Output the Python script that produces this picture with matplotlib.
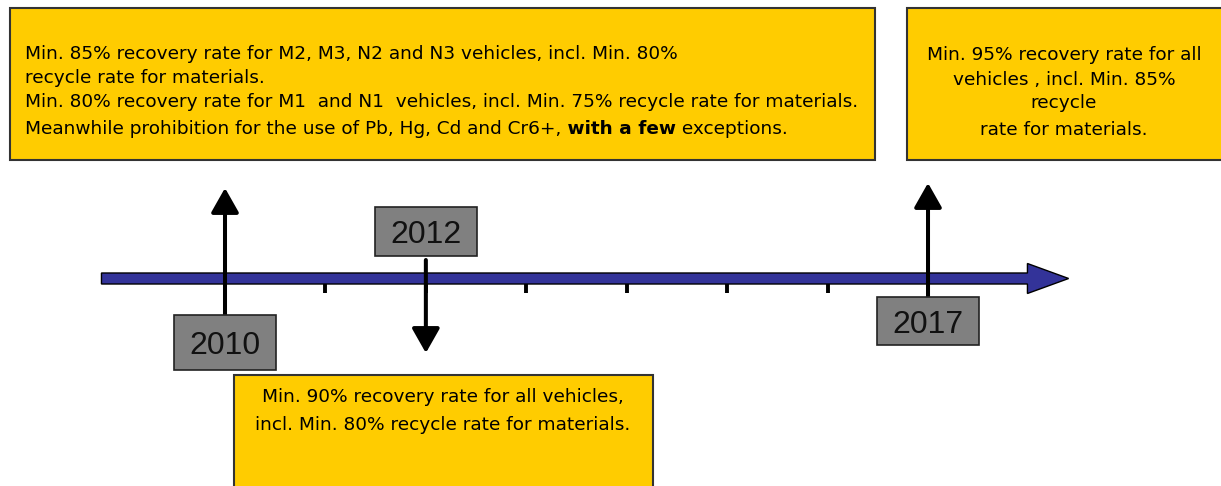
import matplotlib
matplotlib.use("Agg")
import matplotlib.pyplot as plt
from matplotlib.patches import Rectangle, FancyArrow

# Timeline data
event_years = [2010, 2012, 2017]
event_labels = ["2010", "2012", "2017"]
tick_years = [2010, 2011, 2012, 2013, 2014, 2015, 2016, 2017]
axis_start, axis_end = 2008.77, 2018.40

# Text of the yellow boxes
text_2010 = [
    "Min. 85% recovery rate for M2, M3, N2 and N3 vehicles, incl. Min. 80%",
    "recycle rate for materials.",
    "Min. 80% recovery rate for M1  and N1  vehicles, incl. Min. 75% recycle rate for materials.",
]
text_2010_last = ["Meanwhile prohibition for the use of Pb, Hg, Cd and Cr6+,", " with a few", " exceptions."]
text_2012 = ["Min. 90% recovery rate for all vehicles,", "incl. Min. 80% recycle rate for materials."]
text_2017 = ["Min. 95% recovery rate for all", "vehicles , incl. Min. 85%", "recycle", "rate for materials."]

# Styling / layout
W, H = 1221, 486
px_per_year = 100.43
yellow = "#FFCC00"
blue = "#333399"
grey = "#808080"
fs = 13.3
box_font = "DejaVu Sans"
year_font = "Liberation Sans"

fig = plt.figure(figsize=(W / 100, H / 100), dpi=100)
ax = fig.add_axes([0, 0, 1, 1])
ax.set_xlim(0, W)
ax.set_ylim(H, 0)
ax.axis("off")

tl = fig.add_axes([0, 0, 1, 1])
tl.set_xlim(2010 - 225 / px_per_year, 2010 + (W - 225) / px_per_year)
tl.set_ylim(H, 0)
tl.axis("off")
tl.patch.set_alpha(0)

# yellow boxes
for x0, y0, x1, y1 in [(10, 8, 875, 160), (907, 8, 1240, 160), (234, 375, 653, 500)]:
    ax.add_patch(Rectangle((x0, y0), x1 - x0, y1 - y0, fc=yellow, ec="#333333", lw=1.5))

for line, yb in zip(text_2010, [59, 83, 107]):
    ax.text(25, yb, line, fontsize=fs, family=box_font, va="baseline", ha="left")
prev = ax.text(25, 134, text_2010_last[0], fontsize=fs, family=box_font, va="baseline", ha="left")
prev = ax.annotate(text_2010_last[1], xy=(1, 0), xycoords=prev, fontsize=fs, family=box_font,
                   fontweight="bold", va="bottom", ha="left")
ax.annotate(text_2010_last[2], xy=(1, 0), xycoords=prev, fontsize=fs, family=box_font,
            va="bottom", ha="left")

for line, yb in zip(text_2017, [60, 85, 108, 135]):
    ax.text(1064, yb, line, fontsize=fs, family=box_font, va="baseline", ha="center")

for line, yb in zip(text_2012, [402, 430]):
    ax.text(443, yb, line, fontsize=fs, family=box_font, va="baseline", ha="center")

# timeline bar with arrow head
tl.add_patch(FancyArrow(axis_start, 278.5, axis_end - axis_start, 0, width=11, head_width=30,
                        head_length=0.41, length_includes_head=True, fc=blue, ec="black",
                        lw=1, zorder=2))
tl.vlines(tick_years, 283, 293, color="black", lw=2.8, zorder=1)

# event arrows and year labels: (arrow start, arrow tip, box top, box height)
event_layout = {2010: (315, 188, 315, 55), 2012: (260, 353, 207, 49), 2017: (297, 183, 297, 48)}
box_w = 102 / px_per_year
for yr, lab in zip(event_years, event_labels):
    start, tip, top, hgt = event_layout[yr]
    tl.annotate("", xy=(yr, tip), xytext=(yr, start),
                arrowprops=dict(arrowstyle="-|>,head_length=15,head_width=8.5", mutation_scale=1,
                                lw=2.9, color="black", shrinkA=0, shrinkB=0), zorder=3)
    tl.add_patch(Rectangle((yr - box_w / 2, top), box_w, hgt, fc=grey, ec="#222222", lw=1.2, zorder=4))
    tl.text(yr, top + hgt / 2 + 11.5, lab, fontsize=23, family=year_font, color="#111111",
            ha="center", va="baseline", zorder=5)

fig.savefig("out.png", dpi=100)
